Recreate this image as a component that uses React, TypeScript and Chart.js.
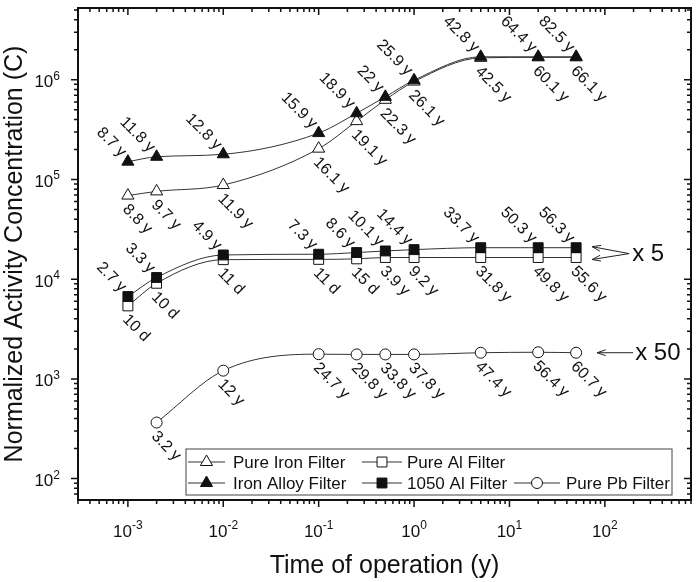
import { useEffect, useRef } from 'react'
import { Chart, registerables } from 'chart.js'

Chart.register(...registerables)

const FONT = '"Liberation Sans", Arial, Helvetica, sans-serif'
const INK = '#111'

// time of operation (y)
const times = [0.001, 0.002, 0.01, 0.1, 0.25, 0.5, 1, 5, 20, 50]
const pbTimes = [0.002, 0.01, 0.1, 0.25, 0.5, 1, 5, 20, 50]

// normalized activity concentration (C)
const pureIron = [6.9e4, 7.6e4, 8.8e4, 2.04e5, 3.85e5, 6.3e5, 9.6e5, 1.66e6, 1.68e6, 1.68e6]
const ironAlloy = [1.51e5, 1.69e5, 1.79e5, 2.92e5, 4.62e5, 6.75e5, 9.9e5, 1.7e6, 1.7e6, 1.7e6]
const pureAl = [5.4e3, 9.1e3, 1.57e4, 1.58e4, 1.6e4, 1.65e4, 1.65e4, 1.65e4, 1.65e4, 1.65e4]
const al1050 = [6.7e3, 1.04e4, 1.75e4, 1.78e4, 1.85e4, 1.92e4, 1.98e4, 2.07e4, 2.07e4, 2.07e4]
const purePb = [365, 1.21e3, 1.77e3, 1.76e3, 1.76e3, 1.76e3, 1.83e3, 1.85e3, 1.83e3]

// point annotations
const pureIronLabels = ['8.8 y', '9.7 y', '11.9 y', '16.1 y', '19.1 y', '22.3 y', '26.1 y', '42.5 y', '60.1 y', '66.1 y']
const ironAlloyLabels = ['8.7 y', '11.8 y', '12.8 y', '15.9 y', '18.9 y', '22 y', '25.9 y', '42.8 y', '64.4 y', '82.5 y']
const pureAlLabels = ['10 d', '10 d', '11 d', '11 d', '15 d', '3.9 y', '9.2 y', '31.8 y', '49.8 y', '55.6 y']
const al1050Labels = ['2.7 y', '3.3 y', '4.9 y', '7.3 y', '8.6 y', '10.1 y', '14.4 y', '33.7 y', '50.3 y', '56.3 y']
const pbLabels = ['3.2 y', '12 y', '24.7 y', '29.8 y', '33.8 y', '37.8 y', '47.4 y', '56.4 y', '60.7 y']

const X_MIN = 3e-4
const X_MAX = 800
const Y_MIN = 61
const Y_MAX = 5.25e6
const xDecades = [-3, -2, -1, 0, 1, 2]
const yDecades = [2, 3, 4, 5, 6]

function series(label: string, xs: number[], ys: number[], style: string, fill: string, radius: number) {
  return {
    label,
    data: xs.map((x, i) => ({ x, y: ys[i] })),
    pointStyle: style,
    pointRadius: radius,
    pointHoverRadius: radius,
    pointBackgroundColor: fill,
    pointBorderColor: INK,
    pointBorderWidth: 1,
    borderColor: '#333',
    borderWidth: 1,
    cubicInterpolationMode: 'monotone',
    fill: false,
  }
}

// dataset 0 is drawn on top
const datasets = [
  series('Iron Alloy Filter', times, ironAlloy, 'triangle', INK, 7),
  series('Pure Iron Filter', times, pureIron, 'triangle', '#fff', 7),
  series('1050 Al Filter', times, al1050, 'rect', INK, 7),
  series('Pure Al Filter', times, pureAl, 'rect', '#fff', 7),
  series('Pure Pb Filter', pbTimes, purePb, 'circle', '#fff', 5.5),
]

const valueLabels = [
  { ds: 0, texts: ironAlloyLabels, above: true },
  { ds: 1, texts: pureIronLabels, above: false },
  { ds: 2, texts: al1050Labels, above: true },
  { ds: 3, texts: pureAlLabels, above: false },
  { ds: 4, texts: pbLabels, above: false },
]

const legendItems = [
  { ds: 1, col: 0, row: 0 },
  { ds: 3, col: 1, row: 0 },
  { ds: 0, col: 0, row: 1 },
  { ds: 2, col: 1, row: 1 },
  { ds: 4, col: 2, row: 1 },
]

function marker(ctx: CanvasRenderingContext2D, style: string, x: number, y: number, r: number, fill: string) {
  ctx.beginPath()
  if (style === 'triangle') {
    for (let k = 0; k < 3; k++) {
      const a = (k * 2 * Math.PI) / 3
      ctx.lineTo(x + Math.sin(a) * r, y - Math.cos(a) * r)
    }
    ctx.closePath()
  } else if (style === 'rect') {
    const s = r * Math.SQRT1_2
    ctx.rect(x - s, y - s, 2 * s, 2 * s)
  } else {
    ctx.arc(x, y, r, 0, Math.PI * 2)
  }
  ctx.fillStyle = fill
  ctx.fill()
  ctx.lineWidth = 1
  ctx.strokeStyle = INK
  ctx.stroke()
}

function tickValues(min: number, max: number) {
  const out: { v: number; major: boolean }[] = []
  for (let e = Math.floor(Math.log10(min)); e <= Math.ceil(Math.log10(max)); e++) {
    for (let m = 1; m <= 9; m++) {
      const v = m * Math.pow(10, e)
      if (v >= min * 0.999 && v <= max * 1.001) out.push({ v, major: m === 1 })
    }
  }
  return out
}

const frameAxes = {
  id: 'frameAxes',
  afterDraw(chart: any) {
    const { ctx, chartArea: a, scales } = chart
    ctx.save()
    ctx.strokeStyle = INK
    ctx.lineWidth = 1.5
    ctx.beginPath()
    for (const t of tickValues(X_MIN, X_MAX)) {
      const px = scales.x.getPixelForValue(t.v)
      const len = t.major ? 7 : 4
      ctx.moveTo(px, a.bottom)
      ctx.lineTo(px, a.bottom + len)
      ctx.moveTo(px, a.top)
      ctx.lineTo(px, a.top + len)
    }
    for (const t of tickValues(Y_MIN, Y_MAX)) {
      const py = scales.y.getPixelForValue(t.v)
      const len = t.major ? 7 : 4
      ctx.moveTo(a.left, py)
      ctx.lineTo(a.left - len, py)
      ctx.moveTo(a.right, py)
      ctx.lineTo(a.right - len, py)
    }
    ctx.stroke()
    ctx.lineWidth = 2
    ctx.strokeRect(a.left, a.top, a.right - a.left, a.bottom - a.top)

    // decade labels written as 10 with a raised exponent
    ctx.fillStyle = INK
    ctx.textBaseline = 'alphabetic'
    const base = '17px ' + FONT
    const sup = '12px ' + FONT
    for (const e of xDecades) {
      const px = scales.x.getPixelForValue(Math.pow(10, e))
      ctx.font = base
      const w1 = ctx.measureText('10').width
      ctx.font = sup
      const w2 = ctx.measureText(String(e)).width
      const x0 = px - (w1 + w2) / 2
      ctx.textAlign = 'left'
      ctx.font = base
      ctx.fillText('10', x0, a.bottom + 37)
      ctx.font = sup
      ctx.fillText(String(e), x0 + w1, a.bottom + 29)
    }
    for (const e of yDecades) {
      const py = scales.y.getPixelForValue(Math.pow(10, e))
      ctx.font = sup
      const w2 = ctx.measureText(String(e)).width
      ctx.textAlign = 'right'
      ctx.fillText(String(e), a.left - 18, py)
      ctx.font = base
      ctx.fillText('10', a.left - 18 - w2, py + 7.5)
    }
    ctx.restore()
  },
}

const pointLabels = {
  id: 'pointLabels',
  afterDatasetsDraw(chart: any) {
    const { ctx } = chart
    ctx.save()
    ctx.font = '16px ' + FONT
    ctx.fillStyle = INK
    ctx.textBaseline = 'middle'
    for (const lab of valueLabels) {
      const meta = chart.getDatasetMeta(lab.ds)
      meta.data.forEach((pt: any, i: number) => {
        ctx.save()
        ctx.translate(pt.x, pt.y)
        ctx.rotate(Math.PI / 4)
        if (lab.above) {
          ctx.textAlign = 'right'
          ctx.fillText(lab.texts[i], -8, -2)
        } else {
          ctx.textAlign = 'left'
          ctx.fillText(lab.texts[i], 6, 10)
        }
        ctx.restore()
      })
    }
    ctx.restore()
  },
}

function arrow(ctx: CanvasRenderingContext2D, x1: number, y1: number, x2: number, y2: number) {
  const ang = Math.atan2(y2 - y1, x2 - x1)
  const head = 9
  const spread = 0.33
  ctx.beginPath()
  ctx.moveTo(x1, y1)
  ctx.lineTo(x2, y2)
  ctx.moveTo(x2 - head * Math.cos(ang - spread), y2 - head * Math.sin(ang - spread))
  ctx.lineTo(x2, y2)
  ctx.lineTo(x2 - head * Math.cos(ang + spread), y2 - head * Math.sin(ang + spread))
  ctx.stroke()
}

const scaleNotes = {
  id: 'scaleNotes',
  afterDraw(chart: any) {
    const { ctx } = chart
    const lastOf = (ds: number) => {
      const d = chart.getDatasetMeta(ds).data
      return d[d.length - 1]
    }
    ctx.save()
    ctx.strokeStyle = '#222'
    ctx.lineWidth = 1
    ctx.fillStyle = INK
    ctx.font = '24px ' + FONT
    ctx.textAlign = 'left'
    ctx.textBaseline = 'middle'

    const f = lastOf(2)
    const o = lastOf(3)
    const tailX = f.x + 53
    const tipX = f.x + 16
    const midY = (f.y + o.y) / 2 + 1
    arrow(ctx, tailX, midY, tipX, f.y - 1)
    arrow(ctx, tailX, midY, tipX, o.y + 2)
    ctx.fillText('x 5', tailX + 3, midY + 1)

    const p = lastOf(4)
    arrow(ctx, p.x + 57, p.y, p.x + 21, p.y)
    ctx.fillText('x 50', p.x + 59, p.y + 1)
    ctx.restore()
  },
}

const filterLegend = {
  id: 'filterLegend',
  afterDraw(chart: any) {
    const { ctx, chartArea: a } = chart
    const left = a.left + 108
    const top = a.bottom - 51
    const right = a.right - 19
    const bottom = a.bottom - 5
    const cols = [
      { line: 2, len: 37, text: 47 },
      { line: 176, len: 40, text: 221 },
      { line: 328, len: 46, text: 380 },
    ]
    const rows = [13, 34]
    ctx.save()
    ctx.fillStyle = '#fff'
    ctx.fillRect(left, top, right - left, bottom - top)
    ctx.strokeStyle = '#444'
    ctx.lineWidth = 1
    ctx.strokeRect(left, top, right - left, bottom - top)
    ctx.font = '17px ' + FONT
    ctx.textBaseline = 'middle'
    ctx.textAlign = 'left'
    for (const item of legendItems) {
      const ds = chart.data.datasets[item.ds]
      const c = cols[item.col]
      const y = top + rows[item.row]
      const x0 = left + c.line
      ctx.strokeStyle = '#333'
      ctx.beginPath()
      ctx.moveTo(x0, y)
      ctx.lineTo(x0 + c.len, y)
      ctx.stroke()
      marker(ctx, ds.pointStyle, x0 + c.len / 2, y, ds.pointRadius, ds.pointBackgroundColor)
      ctx.fillStyle = INK
      ctx.fillText(ds.label, left + c.text, y + 1)
    }
    ctx.restore()
  },
}

export default function App() {
  const canvasRef = useRef<HTMLCanvasElement>(null)
  const chartRef = useRef<Chart | null>(null)

  useEffect(() => {
    if (!canvasRef.current) return
    if (chartRef.current) chartRef.current.destroy()

    const config: any = {
      type: 'line',
      data: { datasets },
      options: {
        responsive: true,
        maintainAspectRatio: false,
        animation: false,
        layout: { padding: { top: 3, right: 6, left: 0, bottom: 0 } },
        plugins: {
          legend: { display: false },
          tooltip: { enabled: false },
        },
        scales: {
          x: {
            type: 'logarithmic',
            min: X_MIN,
            max: X_MAX,
            grid: { display: false },
            border: { display: false },
            ticks: { display: false },
            title: {
              display: true,
              text: 'Time of operation (y)',
              color: INK,
              font: { family: FONT, size: 25 },
              padding: { top: 0, bottom: 1 },
            },
            afterFit: (s: any) => {
              s.height = 82
            },
          },
          y: {
            type: 'logarithmic',
            min: Y_MIN,
            max: Y_MAX,
            grid: { display: false },
            border: { display: false },
            ticks: { display: false },
            title: {
              display: true,
              text: 'Normalized Activity Concentration (C)',
              color: INK,
              font: { family: FONT, size: 25 },
              padding: { top: 0, bottom: 0 },
            },
            afterFit: (s: any) => {
              s.width = 78
            },
          },
        },
      },
      plugins: [frameAxes, pointLabels, scaleNotes, filterLegend],
    }

    chartRef.current = new Chart(canvasRef.current, config)

    return () => {
      if (chartRef.current) {
        chartRef.current.destroy()
        chartRef.current = null
      }
    }
  }, [])

  return (
    <div style={{ position: 'absolute', left: 0, top: 0, width: 699, height: 582, background: '#fff' }}>
      <canvas ref={canvasRef} />
    </div>
  )
}
